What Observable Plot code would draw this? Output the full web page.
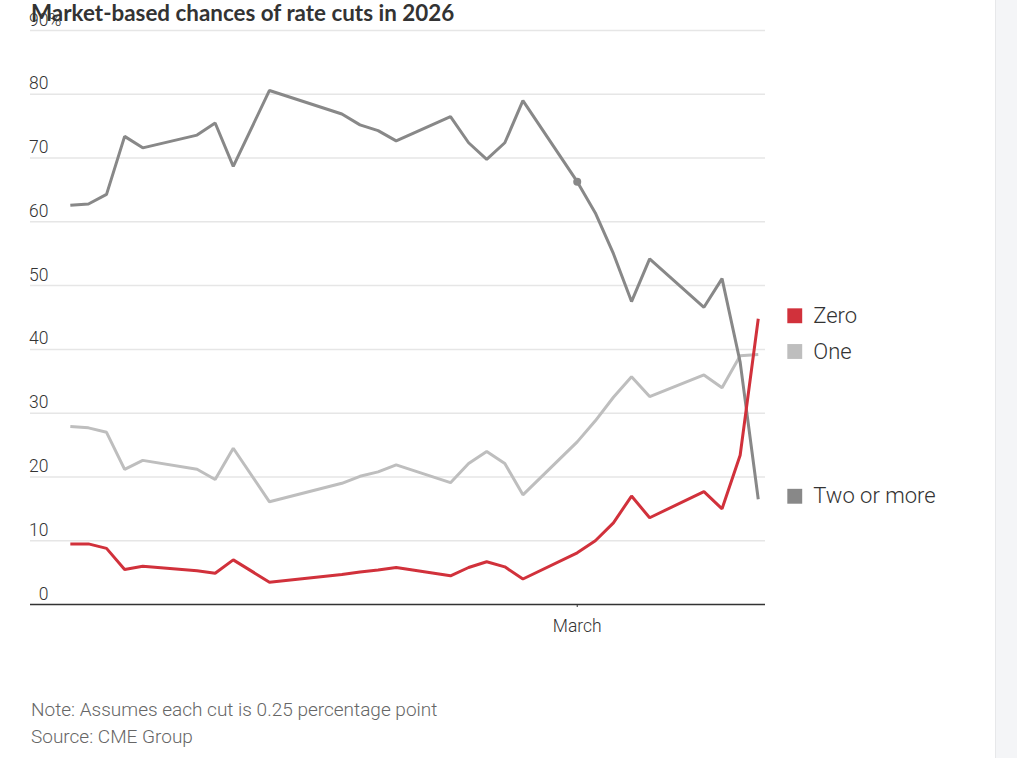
<!DOCTYPE html>
<html>
<head>
<meta charset="utf-8">
<script src="https://cdn.jsdelivr.net/npm/d3@7"></script>
<script src="https://cdn.jsdelivr.net/npm/@observablehq/plot@0.6"></script>
<style>
  html, body { margin: 0; padding: 0; background: #fff; }
  body { width: 1017px; height: 758px; position: relative; overflow: hidden; font-family: "Roboto", "Liberation Sans", sans-serif; }
  #side { position: absolute; left: 995px; top: 0; width: 22px; height: 758px; background: #f4f5f7; border-left: 1px solid #e7e8ea; }
  #title { position: absolute; left: 31px; top: 1px; font-family: "Lato", "Roboto", sans-serif; font-weight: 700; font-size: 22.4px; line-height: 24px; color: #333; z-index: 2; white-space: nowrap; }
  #chart { position: absolute; left: 0; top: 0; }
  #notes { position: absolute; left: 31px; top: 696px; font-size: 19px; line-height: 27px; color: #666; font-weight: 300; }
</style>
</head>
<body>
<div id="side"></div>
<div id="chart"></div>
<div id="title">Market-based chances of rate cuts in 2026</div>
<div id="notes">
  <div>Note: Assumes each cut is 0.25 percentage point</div>
  <div>Source: CME Group</div>
</div>
<script>
// ---- data ----
const dates = ["2026-02-02","2026-02-03","2026-02-04","2026-02-05","2026-02-06",
  "2026-02-09","2026-02-10","2026-02-11","2026-02-13",
  "2026-02-17","2026-02-18","2026-02-19","2026-02-20",
  "2026-02-23","2026-02-24","2026-02-25","2026-02-26","2026-02-27",
  "2026-03-02","2026-03-03","2026-03-04","2026-03-05","2026-03-06",
  "2026-03-09","2026-03-10","2026-03-11","2026-03-12"];
const zero = [9.5, 9.5, 8.8, 5.5, 6.0, 5.3, 4.9, 7.0, 3.5, 4.7, 5.1, 5.4, 5.8, 4.5, 5.8, 6.7, 5.9, 4.0, 8.1, 10.0, 12.8, 17.0, 13.6, 17.7, 15.0, 23.4, 44.8];
const one = [27.9, 27.7, 27.0, 21.2, 22.6, 21.2, 19.6, 24.5, 16.1, 19.0, 20.1, 20.8, 21.9, 19.1, 22.1, 24.0, 22.1, 17.2, 25.5, 28.8, 32.5, 35.7, 32.6, 36.0, 34.0, 39.0, 39.2];
const twoOrMore = [62.6, 62.8, 64.3, 73.4, 71.6, 73.6, 75.5, 68.7, 80.6, 76.9, 75.2, 74.3, 72.7, 76.5, 72.4, 69.8, 72.4, 79.0, 66.3, 61.4, 55.0, 47.5, 54.2, 46.6, 51.1, 38.0, 16.5];
const seriesNames = ["Zero", "One", "Two or more"];
const seriesColors = ["#d1313b", "#bebebe", "#888888"];
const yTicks = [0, 10, 20, 30, 40, 50, 60, 70, 80, 90];
const xTickDates = ["2026-03-02"];
const xTickLabels = ["March"];
const markedDate = "2026-03-02"; // highlighted point on the "Two or more" line

// ---- build table ----
const parse = d3.utcParse("%Y-%m-%d");
const values = [zero, one, twoOrMore];
const rows = [];
seriesNames.forEach((name, i) => {
  dates.forEach((d, j) => rows.push({series: name, date: parse(d), value: values[i][j]}));
});
const last = seriesNames.map((name, i) => ({series: name, date: parse(dates[dates.length - 1]), value: values[i][values[i].length - 1]}));
const color = Object.fromEntries(seriesNames.map((n, i) => [n, seriesColors[i]]));
const t0 = parse(dates[0]), t1 = parse(dates[dates.length - 1]);
const day = 864e5;
const xDomain = [new Date(+t0 - 2.2 * day), new Date(+t1 + 0.4 * day)];
const xTicks = xTickDates.map(parse);

const drawOrder = ["One", "Two or more", "Zero"];

const chart = Plot.plot({
  width: 990,
  height: 660,
  marginLeft: 30,
  marginRight: 225,
  marginTop: 30,
  marginBottom: 56,
  style: {fontFamily: "Roboto, 'Liberation Sans', sans-serif", fontSize: "17px", background: "transparent", overflow: "visible"},
  x: {type: "utc", domain: xDomain},
  y: {domain: [0, 90]},
  marks: [
    Plot.gridY(yTicks.filter(d => d > 0), {stroke: "#e6e6e6", strokeOpacity: 1, strokeWidth: 1.5}),
    Plot.axisY(yTicks, {tickSize: 0, tickPadding: 0, textAnchor: "end", dx: 18, dy: -10.5, fill: "#333", fontSize: 17.5, fontWeight: 300, label: null, tickFormat: d => String(d)}),
    Plot.text([yTicks[yTicks.length - 1]], {frameAnchor: "left", y: d => d, text: () => "%", dx: 18, dy: -10.5, textAnchor: "start", fill: "#333", fontSize: 17.5, fontWeight: 300}),
    Plot.ruleY([0], {stroke: "#333", strokeWidth: 1.5}),
    Plot.axisX(xTicks, {tickSize: 3, tickPadding: 12, stroke: "#333", fill: "#333", fontSize: 17.5, fontWeight: 300, label: null, tickFormat: (d, i) => xTickLabels[i]}),
    ...drawOrder.map(name => Plot.lineY(rows.filter(r => r.series === name), {
      x: "date", y: "value", stroke: color[name], strokeWidth: 3, strokeLinejoin: "miter", strokeLinecap: "butt"
    })),
    Plot.dot(rows.filter(r => r.series === "Two or more" && +r.date === +parse(markedDate)), {x: "date", y: "value", r: 4, fill: color["Two or more"]}),
    Plot.dot(last, {x: "date", y: "value", symbol: "square", r: 8.4, fill: d => color[d.series], dx: 36.5, dy: -3}),
    Plot.text(last, {x: "date", y: "value", text: "series", dx: 55, dy: -3, textAnchor: "start", fontSize: 22, fill: "#333", fontWeight: 300})
  ]
});
document.getElementById("chart").appendChild(chart);
</script>
</body>
</html>
